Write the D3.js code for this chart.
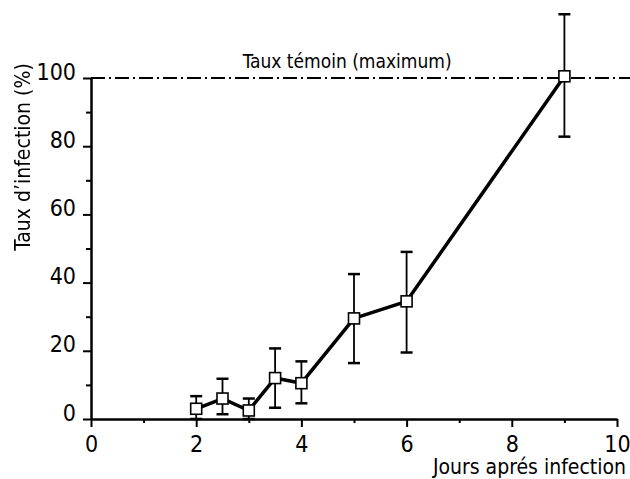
<!DOCTYPE html>
<html>
<head>
<meta charset="utf-8">
<script src="https://cdn.jsdelivr.net/npm/d3@7"></script>
<style>
  body { margin: 0; background: #fff; }
  text { font-family: "DejaVu Sans Condensed", "DejaVu Sans", sans-serif; fill: #000; }
</style>
</head>
<body>
<div id="chart"></div>
<script>
// data
var days = [2, 2.5, 3, 3.5, 4, 5, 6, 9];
var rate = [3, 6, 2.5, 12, 10.5, 29.5, 34.5, 100.5];
var errLow = [0, 1.4, 0, 3.3, 4.6, 16.4, 19.5, 82.8];
var errHigh = [6.7, 11.8, 6, 20.7, 16.9, 42.5, 49, 118.7];
var xTicks = [0, 2, 4, 6, 8, 10];
var xMinor = [1, 3, 5, 7, 9];
var yTicks = [0, 20, 40, 60, 80, 100];
var yMinor = [10, 30, 50, 70, 90];
var controlRate = 100;

var margin = {top: 78, right: 13, bottom: 60, left: 91},
    width = 630 - margin.left - margin.right,
    height = 479 - margin.top - margin.bottom;

var svg = d3.select("#chart")
  .append("svg")
    .attr("width", 630)
    .attr("height", 479)
  .append("g")
    .attr("transform", "translate(" + margin.left + "," + margin.top + ")");

var x = d3.scaleLinear()
  .domain([0, 10])
  .range([0, 526]);

var y = d3.scaleLinear()
  .domain([0, 100])
  .range([height, 0]);

var data = days.map(function(d, i) {
  return {day: d, rate: rate[i], lo: errLow[i], hi: errHigh[i]};
});

// X AXIS
var xAxis = svg.append("g")
  .attr("transform", "translate(0," + height + ")")
  .call(d3.axisBottom(x).tickValues(xTicks).tickSize(8).tickSizeOuter(0).tickPadding(6));
xAxis.select(".domain").attr("stroke-width", 2.5);
xAxis.selectAll(".tick line").attr("stroke-width", 2);
xAxis.selectAll("text")
  .attr("font-size", "23px")
  .attr("y", 33)
  .attr("dy", 0)
  .style("font-family", "DejaVu Sans Condensed, sans-serif");

svg.append("g")
  .attr("transform", "translate(0," + height + ")")
  .call(d3.axisBottom(x).tickValues(xMinor).tickSize(4).tickFormat(""))
  .call(function(g) { g.select(".domain").remove(); })
  .selectAll(".tick line").attr("stroke-width", 2);

// Y AXIS
var yAxis = svg.append("g")
  .call(d3.axisLeft(y).tickValues(yTicks).tickSize(8).tickSizeOuter(0).tickPadding(8));
yAxis.select(".domain").attr("stroke-width", 2.5);
yAxis.selectAll(".tick line").attr("stroke-width", 2);
yAxis.selectAll("text")
  .attr("font-size", "23px")
  .attr("dy", "0.05em")
  .attr("x", -15)
  .style("font-family", "DejaVu Sans Condensed, sans-serif");

svg.append("g")
  .call(d3.axisLeft(y).tickValues(yMinor).tickSize(5).tickFormat(""))
  .call(function(g) { g.select(".domain").remove(); })
  .selectAll(".tick line").attr("stroke-width", 2);

// control line (dash-dot)
svg.append("line")
  .attr("x1", 0)
  .attr("x2", 630 - margin.left)
  .attr("y1", y(controlRate))
  .attr("y2", y(controlRate))
  .attr("stroke", "#000")
  .attr("stroke-width", 1.8)
  .attr("stroke-dasharray", "14,4,2,4");

svg.append("text")
  .attr("x", x(4.87))
  .attr("y", y(controlRate) - 10)
  .attr("text-anchor", "middle")
  .attr("font-size", "19px")
  .text("Taux témoin (maximum)");

// error bars
var bars = svg.append("g")
  .selectAll("g")
  .data(data)
  .enter().append("g")
    .attr("stroke", "#000")
    .attr("stroke-width", 1.8);

bars.append("line")
  .attr("x1", function(d) { return x(d.day); })
  .attr("x2", function(d) { return x(d.day); })
  .attr("y1", function(d) { return y(d.lo); })
  .attr("y2", function(d) { return y(d.hi); });

bars.append("line")
  .attr("x1", function(d) { return x(d.day) - 6; })
  .attr("x2", function(d) { return x(d.day) + 6; })
  .attr("y1", function(d) { return y(d.hi); })
  .attr("y2", function(d) { return y(d.hi); })
  .attr("stroke-width", 2.5);

bars.append("line")
  .attr("x1", function(d) { return x(d.day) - 6; })
  .attr("x2", function(d) { return x(d.day) + 6; })
  .attr("y1", function(d) { return y(d.lo); })
  .attr("y2", function(d) { return y(d.lo); })
  .attr("stroke-width", 2.5);

// line
var line = d3.line()
  .x(function(d) { return x(d.day); })
  .y(function(d) { return y(d.rate); });

svg.append("path")
  .datum(data)
  .attr("fill", "none")
  .attr("stroke", "#000")
  .attr("stroke-width", 3.5)
  .attr("stroke-linejoin", "round")
  .attr("d", line);

// squares
svg.append("g")
  .selectAll("rect")
  .data(data)
  .enter().append("rect")
    .attr("x", function(d) { return x(d.day) - 5.5; })
    .attr("y", function(d) { return y(d.rate) - 5.5; })
    .attr("width", 11)
    .attr("height", 11)
    .attr("fill", "#fff")
    .attr("stroke", "#000")
    .attr("stroke-width", 1.6);

// axis titles
svg.append("text")
  .attr("x", 626 - margin.left)
  .attr("y", 474 - margin.top)
  .attr("text-anchor", "end")
  .attr("font-size", "21px")
  .text("Jours aprés infection");

svg.append("text")
  .attr("transform", "translate(" + (30 - margin.left) + "," + (157 - margin.top) + ") rotate(-90)")
  .attr("text-anchor", "middle")
  .attr("font-size", "21px")
  .style("filter", "grayscale(1)")
  .text("Taux d’infection (%)");
</script>
</body>
</html>
